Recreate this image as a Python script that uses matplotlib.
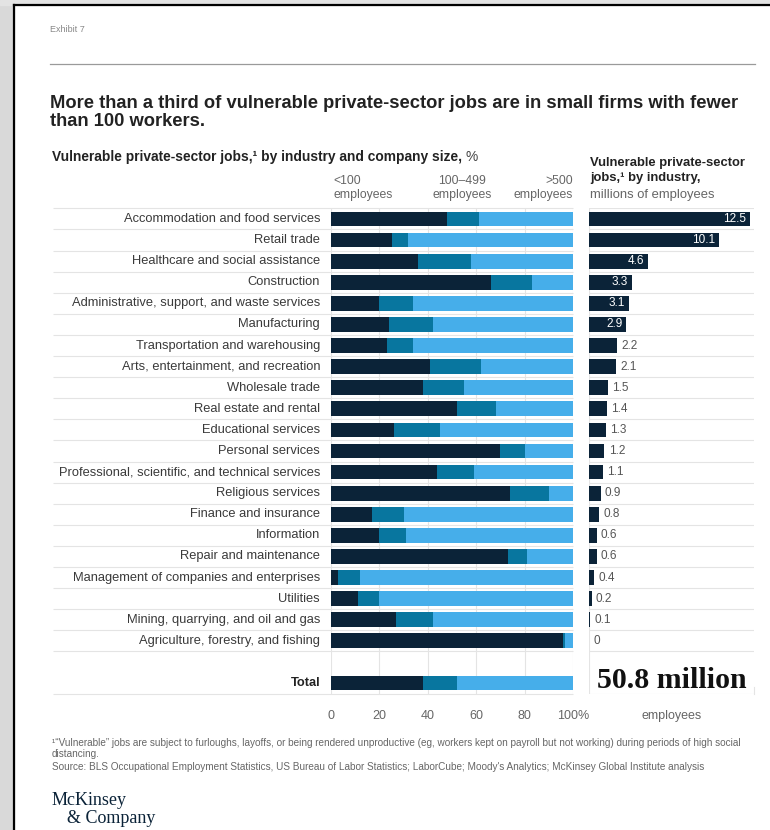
import matplotlib
matplotlib.use("Agg")
import matplotlib.pyplot as plt
from matplotlib.patches import Rectangle
from matplotlib.lines import Line2D

plt.rcParams['font.family'] = ['Liberation Sans', 'DejaVu Sans']

industries = [
    "Accommodation and food services", "Retail trade", "Healthcare and social assistance",
    "Construction", "Administrative, support, and waste services", "Manufacturing",
    "Transportation and warehousing", "Arts, entertainment, and recreation", "Wholesale trade",
    "Real estate and rental", "Educational services", "Personal services",
    "Professional, scientific, and technical services", "Religious services",
    "Finance and insurance", "Information", "Repair and maintenance",
    "Management of companies and enterprises", "Utilities",
    "Mining, quarrying, and oil and gas", "Agriculture, forestry, and fishing",
]
# share of vulnerable jobs by company size, %
small = [48, 25, 36, 66, 20, 24, 23, 41, 38, 52, 26, 70, 44, 74, 17, 20, 73, 3, 11, 27, 96]
medium = [13, 7, 22, 17, 14, 18, 11, 21, 17, 16, 19, 10, 15, 16, 13, 11, 8, 9, 9, 15, 0.5]
large = [39, 68, 42, 17, 66, 58, 66, 38, 45, 32, 55, 20, 41, 10, 70, 69, 19, 88, 80, 58, 3.5]
total_split = [38, 14, 48]
# millions of vulnerable jobs
jobs = [12.5, 10.1, 4.6, 3.3, 3.1, 2.9, 2.2, 2.1, 1.5, 1.4, 1.3, 1.2, 1.1,
        0.9, 0.8, 0.6, 0.6, 0.4, 0.2, 0.1, 0]
total_jobs = "50.8 million"

size_labels = ["<100\nemployees", "100\u2013499\nemployees", ">500\nemployees"]
pct_ticks = [0, 20, 40, 60, 80, 100]
pct_ticklabels = ["0", "20", "40", "60", "80", "100%"]

DARK = "#0B2338"
MID = "#08769F"
LIGHT = "#46AEEA"
GRID = "#e4e4e4"
TXT = "#3a3a3a"
GRAY = "#666666"

W, H = 770, 830
fig = plt.figure(figsize=(7.7, 8.3), dpi=100)


def fx(x):
    return x / W


def fy(y):
    return 1 - y / H


# page frame
fig.patches.append(Rectangle((0, 0), fx(14), 1, transform=fig.transFigure, color="#d9d9d9", zorder=0))
fig.patches.append(Rectangle((0, fy(5)), 1, 5 / H, transform=fig.transFigure, color="#e3e3e3", zorder=0))
fig.lines.append(Line2D([fx(14), fx(14)], [0, fy(5)], transform=fig.transFigure, color="black", lw=1.6))
fig.lines.append(Line2D([fx(14), 1], [fy(5), fy(5)], transform=fig.transFigure, color="black", lw=1.6))

fig.text(fx(50), fy(30), "Exhibit 7", fontsize=6.5, color="#888888", va="center")
fig.lines.append(Line2D([fx(50), fx(755)], [fy(64), fy(64)], transform=fig.transFigure, color="#9a9a9a", lw=0.9))
fig.text(fx(50), fy(103), "More than a third of vulnerable private-sector jobs are in small firms with fewer",
         fontsize=13.2, fontweight="bold", color="#222222", va="center")
fig.text(fx(50), fy(122), "than 100 workers.",
         fontsize=13.2, fontweight="bold", color="#222222", va="center")

sub = fig.text(fx(52), fy(157), "Vulnerable private-sector jobs,\u00b9 by industry and company size, ",
               fontsize=9.9, fontweight="bold", color="#222222", va="center")
fig.canvas.draw()
sub_end = sub.get_window_extent().x1 / W
fig.text(sub_end, fy(157), "%", fontsize=9.9, color="#444444", va="center")

fig.text(fx(333), fy(188), size_labels[0], fontsize=8.8, color=GRAY, ha="left", va="center", linespacing=1.25)
fig.text(fx(462), fy(188), size_labels[1], fontsize=8.8, color=GRAY, ha="center", va="center", linespacing=1.25)
fig.text(fx(573), fy(188), size_labels[2], fontsize=8.8, color=GRAY, ha="right", va="center", multialignment="right", linespacing=1.25)

fig.text(fx(590), fy(163), "Vulnerable private-sector", fontsize=9.4, fontweight="bold", color="#222222", va="center")
fig.text(fx(590), fy(178), "jobs,\u00b9 by industry,", fontsize=9.4, fontweight="bold", color="#222222", va="center")
fig.text(fx(590), fy(195), "millions of employees", fontsize=9.4, color=GRAY, va="center")

# axes: rows 0..20 industries, 22 = total
top_px, bot_px = 208.4, 693.6
axL = fig.add_axes([fx(331), fy(bot_px), fx(573) - fx(331), (bot_px - top_px) / H])
axR = fig.add_axes([fx(589), fy(bot_px), fx(754) - fx(589), (bot_px - top_px) / H])

rows = list(range(len(industries)))
total_row = len(industries) + 1
bh = 0.7

mid_left = [s for s in small]
large_left = [s + m for s, m in zip(small, medium)]
axL.barh(rows, small, height=bh, color=DARK, zorder=3)
axL.barh(rows, medium, left=mid_left, height=bh, color=MID, zorder=3)
axL.barh(rows, large, left=large_left, height=bh, color=LIGHT, zorder=3)
axL.barh(total_row, total_split[0], height=bh, color=DARK, zorder=3)
axL.barh(total_row, total_split[1], left=total_split[0], height=bh, color=MID, zorder=3)
axL.barh(total_row, total_split[2], left=total_split[0] + total_split[1], height=bh, color=LIGHT, zorder=3)

axL.set_xlim(0, 100)
axL.set_ylim(total_row + 0.5, -0.5)
for t in pct_ticks:
    axL.axvline(t, color=GRID, lw=0.8, zorder=1)

seps = [r - 0.5 for r in rows] + [rows[-1] + 0.5, total_row + 0.5]
axL.hlines(seps, -115, 100, color=GRID, lw=0.8, zorder=1, clip_on=False)

for r, name in zip(rows, industries):
    axL.text(-4.5, r, name, ha="right", va="center", fontsize=9.3, color=TXT)
axL.text(-4.5, total_row, "Total", ha="right", va="center", fontsize=9.3, fontweight="bold", color="#222222")

axL.set_xticks(pct_ticks)
axL.set_xticklabels(pct_ticklabels, fontsize=9, color=GRAY)
axL.tick_params(axis="x", length=0, pad=12)
axL.set_yticks([])
for s in axL.spines.values():
    s.set_visible(False)

# right panel
axR.barh(rows, jobs, height=bh, color=DARK, zorder=3)
axR.set_xlim(0, 12.8)
axR.set_ylim(total_row + 0.5, -0.5)
axR.hlines(seps, 0, 12.8, color=GRID, lw=0.8, zorder=1)
axR.axvline(0, color=GRID, lw=0.8, zorder=1)
axR.plot([12.8, 12.8], [total_row + 0.5, total_row + 0.2], color=GRID, lw=0.8, clip_on=False)
for r, v in zip(rows, jobs):
    lab = f"{v:g}" if v else "0"
    if v >= 2.9:
        axR.annotate(lab, (v, r), xytext=(-3, 0), textcoords="offset points", ha="right", va="center",
                     fontsize=8.5, color="white")
    else:
        axR.annotate(lab, (v, r), xytext=(3, 0), textcoords="offset points", ha="left", va="center",
                     fontsize=8.5, color="#555555")
axR.text(0.65, total_row - 0.1, total_jobs, ha="left", va="center", fontsize=21.5, fontweight="bold",
         family="Liberation Serif", color="#111111")
axR.set_xticks([6.4])
axR.set_xticklabels(["employees"], fontsize=9, color=GRAY)
axR.tick_params(axis="x", length=0, pad=12)
axR.set_yticks([])
for s in axR.spines.values():
    s.set_visible(False)

fig.text(fx(52), fy(748.5), "\u00b9\u201cVulnerable\u201d jobs are subject to furloughs, layoffs, or being rendered unproductive (eg, workers kept on payroll but not working) during periods of high social\ndistancing.",
         fontsize=7.2, color=GRAY, va="center", linespacing=1.2)
fig.text(fx(52), fy(767), "Source: BLS Occupational Employment Statistics, US Bureau of Labor Statistics; LaborCube; Moody's Analytics; McKinsey Global Institute analysis",
         fontsize=7.2, color=GRAY, va="center")

fig.text(fx(52), fy(800), "McKinsey", fontsize=13, family="Liberation Serif", color="#0B2338", va="center")
fig.text(fx(67), fy(818), "& Company", fontsize=13, family="Liberation Serif", color="#0B2338", va="center")

fig.savefig("out.png", dpi=100)
